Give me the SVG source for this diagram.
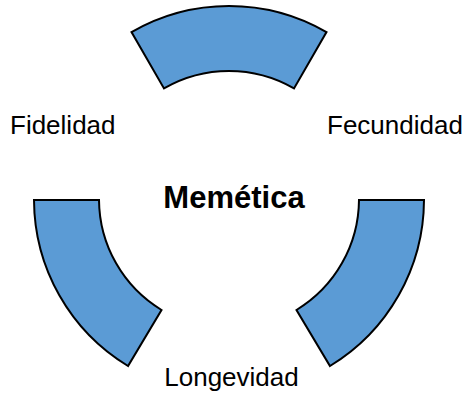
<svg xmlns="http://www.w3.org/2000/svg" width="468" height="394" viewBox="0 0 468 394">
  <style>
    .seg { fill: #5B9BD5; stroke: #000000; stroke-width: 2; stroke-linejoin: miter; }
    .lbl { font-family: "Liberation Sans", Arial, sans-serif; font-size: 26px; fill: #000000; }
    .title { font-family: "Liberation Sans", Arial, sans-serif; font-size: 31px; font-weight: bold; fill: #000000; }
  </style>
  <rect x="0" y="0" width="468" height="394" fill="#FFFFFF"/>
  <g id="node-top">
    <path class="seg" d="M 131.5 32.1 A 195 195 0 0 1 326.5 32.1 L 294 88.4 A 130 130 0 0 0 164 88.4 Z"/>
  </g>
  <g id="node-right">
    <path class="seg" d="M 359 200 L 424 200 A 195 195 0 0 1 330 366 L 296.5 310 A 130 130 0 0 0 359 200 Z"/>
  </g>
  <g id="node-left">
    <path class="seg" d="M 34 200 L 99 200 A 130 130 0 0 0 161.5 310 L 128 366 A 195 195 0 0 1 34 200 Z"/>
  </g>
  <g id="connectors"></g>
  <g id="label-center">
    <text class="title" x="234" y="208" text-anchor="middle">Memética</text>
  </g>
  <g id="label-fidelidad">
    <text class="lbl" x="10" y="134">Fidelidad</text>
  </g>
  <g id="label-fecundidad">
    <text class="lbl" x="327" y="134">Fecundidad</text>
  </g>
  <g id="label-longevidad">
    <text class="lbl" x="231.5" y="386" text-anchor="middle">Longevidad</text>
  </g>
</svg>
